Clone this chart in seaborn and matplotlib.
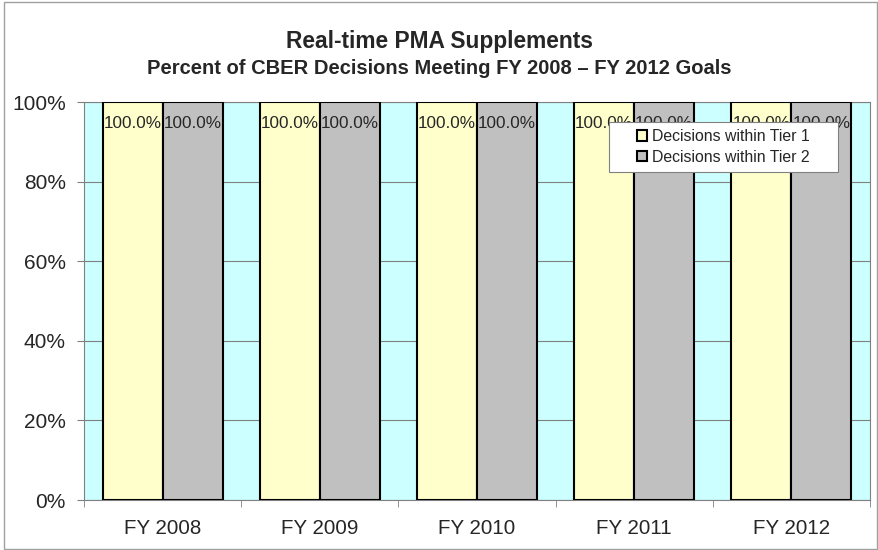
import numpy as np
import pandas as pd
import matplotlib
matplotlib.use("Agg")
import matplotlib.pyplot as plt
import seaborn as sns
from matplotlib.patches import Rectangle
from matplotlib.ticker import FuncFormatter, FixedLocator

years = ["FY 2008", "FY 2009", "FY 2010", "FY 2011", "FY 2012"]
tier1 = [100.0, 100.0, 100.0, 100.0, 100.0]
tier2 = [100.0, 100.0, 100.0, 100.0, 100.0]
series = ["Decisions within Tier 1", "Decisions within Tier 2"]

df = pd.DataFrame({
    "year": years * 2,
    "pct": tier1 + tier2,
    "series": [series[0]] * len(years) + [series[1]] * len(years),
})

sns.set_style("white")
plt.rcParams["font.family"] = ["Liberation Sans", "DejaVu Sans"]

fig = plt.figure(figsize=(8.79, 5.5), dpi=100)
ax = fig.add_axes([0.0956, 0.0909, 0.894, 0.7236])
ax.set_facecolor("#CCFFFF")

sns.barplot(data=df, x="year", y="pct", hue="series", order=years,
            hue_order=series, palette=["#FFFFCC", "#C0C0C0"], saturation=1,
            edgecolor="black", linewidth=1.5, width=0.763, ax=ax, zorder=3)

for cont in ax.containers:
    for bar, v in zip(cont, cont.datavalues):
        ax.text(bar.get_x() + bar.get_width() / 2, v - 5.3, f"{v:.1f}%",
                ha="center", va="center", fontsize=12.3, zorder=5)

ax.set_ylim(0, 100)
ax.set_xlim(-0.5, len(years) - 0.5)
ax.set_yticks(np.arange(0, 101, 20))
ax.yaxis.set_major_formatter(FuncFormatter(lambda v, p: f"{v:.0f}%"))
ax.tick_params(axis="y", labelsize=15, length=5, color="#808080",
               direction="out", left=True, pad=8)
ax.tick_params(axis="x", which="major", labelsize=14.8, length=0, pad=14)
ax.xaxis.set_minor_locator(FixedLocator(np.arange(-0.5, len(years), 1)))
ax.tick_params(axis="x", which="minor", length=5, color="#808080",
               direction="out", bottom=True)
ax.grid(axis="y", color="#808080", linewidth=0.8, zorder=0)
ax.set_axisbelow(True)
for s in ax.spines.values():
    s.set_color("#808080")
    s.set_linewidth(0.8)
ax.set_xlabel("")
ax.set_ylabel("")

leg = ax.legend(loc="upper right", bbox_to_anchor=(0.9326, 0.95),
                borderaxespad=0, fontsize=11.4, handlelength=0.65,
                handleheight=0.65, handletextpad=0.3, labelspacing=0.35,
                borderpad=0.45, frameon=False)
leg.set_zorder(10)

# wider legend box than matplotlib draws: white panel behind it
fig.canvas.draw()
bb = leg.get_window_extent()
panel = Rectangle((bb.x0 - 21, bb.y0), bb.width + 42, bb.height,
                  transform=None, facecolor="white", edgecolor="#808080",
                  linewidth=0.8, zorder=9)
ax.add_artist(panel)

fig.text(0.5, 0.925, "Real-time PMA Supplements", ha="center", va="center",
         fontsize=16.4, fontweight="bold")
fig.text(0.5, 0.876, "Percent of CBER Decisions Meeting FY 2008 \u2013 FY 2012 Goals",
         ha="center", va="center", fontsize=14.5, fontweight="bold")

fig.patches.append(Rectangle((0.004, 0.002), 0.994, 0.995, transform=fig.transFigure,
                             fill=False, edgecolor="#A0A0A0", linewidth=1))

fig.savefig("out.png", dpi=100)
